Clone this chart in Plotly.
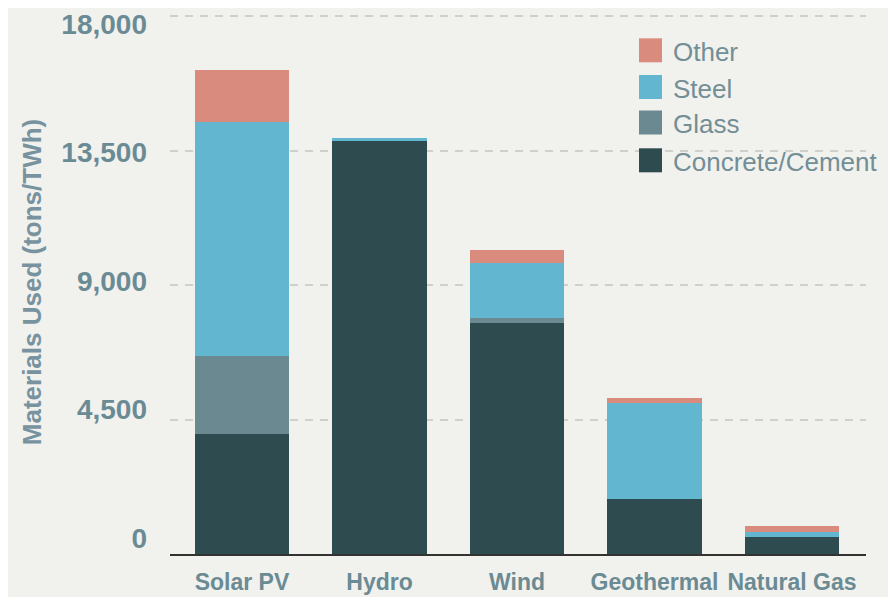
import plotly.graph_objects as go

categories = ["Solar PV", "Hydro", "Wind", "Geothermal", "Natural Gas"]
concrete = [4015, 13830, 7740, 1830, 570]
glass = [2610, 0, 145, 0, 0]
steel = [7830, 80, 1840, 3230, 180]
other = [1740, 0, 445, 170, 190]

series_names = ["Concrete/Cement", "Glass", "Steel", "Other"]
series_values = [concrete, glass, steel, other]
series_colors = ["#2e4b4f", "#6a8990", "#63b6cf", "#d98c7e"]

y_ticks = [0, 4500, 9000, 13500, 18000]

# The page body has an 8px default margin; lay out in reference pixels and shift.
OFF = 8
W, H = 896 - OFF, 597 - OFF
PLOT_LEFT, PLOT_RIGHT, PLOT_TOP, PLOT_BOTTOM = 170, 866, 10, 554  # reference px
L = PLOT_LEFT - OFF
T = PLOT_TOP - OFF
R = W - (PLOT_RIGHT - OFF)
B = H - (PLOT_BOTTOM - OFF)
PW = PLOT_RIGHT - PLOT_LEFT
PH = PLOT_BOTTOM - PLOT_TOP

def px_x(px):
    return (px - PLOT_LEFT) / PW

def px_y(py):
    return (PLOT_BOTTOM - py) / PH

FONT = "Liberation Sans, Arial, Helvetica, sans-serif"
TICK_COLOR = "#6b8b94"
LEGEND_COLOR = "#728e96"
BG = "#f1f1ee"

fig = go.Figure()
x_idx = list(range(len(categories)))
for name, vals, col in zip(series_names, series_values, series_colors):
    fig.add_trace(go.Bar(
        x=x_idx, y=vals, name=name,
        marker=dict(color=col, line=dict(width=0)),
        showlegend=False, yaxis="y",
    ))

# invisible helper trace on the label axis so it renders
fig.add_trace(go.Scatter(x=[0], y=[0], yaxis="y2", mode="markers",
                         marker=dict(opacity=0), showlegend=False, hoverinfo="skip"))

# manual legend (top entry = last stacked series)
legend_rows = [("Other", series_colors[3], 50.3),
               ("Steel", series_colors[2], 87.0),
               ("Glass", series_colors[1], 122.5),
               ("Concrete/Cement", series_colors[0], 160.3)]
shapes = []
annotations = []
for label, col, cy in legend_rows:
    shapes.append(dict(type="rect", xref="paper", yref="paper",
                       x0=px_x(639), x1=px_x(662), y0=px_y(cy + 12), y1=px_y(cy - 12),
                       fillcolor=col, line=dict(width=0), layer="above"))
    annotations.append(dict(xref="paper", yref="paper", x=px_x(671), y=px_y(cy + 2),
                            xanchor="left", yanchor="middle", showarrow=False,
                            text=label, font=dict(family=FONT, size=26, color=LEGEND_COLOR)))

# main value axis: 0 at y=554, 18000 at y=16
top_val = 18000 * (PH / (554.0 - 16.0))
# label axis: labels sit slightly compressed (0 at y=538, 18,000 at y=23.7)
label_px_per_unit = (538.0 - 23.7) / 18000.0
y2_low = -(PLOT_BOTTOM - 538.0) / label_px_per_unit
y2_high = 18000 + (23.7 - PLOT_TOP) / label_px_per_unit

fig.update_layout(
    width=W, height=H,
    margin=dict(l=L, r=R, t=T, b=B, autoexpand=False),
    paper_bgcolor=BG, plot_bgcolor=BG,
    barmode="stack", bargap=0.316,
    font=dict(family=FONT, color=TICK_COLOR),
    xaxis=dict(
        type="linear", range=[-72 / 137.5, 4 + 74 / 137.5],
        tickmode="array", tickvals=x_idx, ticktext=categories,
        showgrid=False, zeroline=False,
        showline=True, linecolor="#333333", linewidth=2,
        ticks="", ticklabelstandoff=6,
        tickfont=dict(family=FONT, size=23, color=TICK_COLOR, weight="bold"),
    ),
    yaxis=dict(
        range=[0, top_val], tickmode="array", tickvals=y_ticks,
        showticklabels=False, ticks="",
        showgrid=True, gridcolor="#cfcfcb", gridwidth=1.5, griddash="8px,7px",
        zeroline=False, showline=False,
    ),
    yaxis2=dict(
        overlaying="y", side="left", range=[y2_low, y2_high],
        tickmode="array", tickvals=y_ticks, tickformat=",",
        showgrid=False, zeroline=False, showline=False, ticks="",
        ticklabelstandoff=22,
        tickfont=dict(family=FONT, size=28, color=TICK_COLOR, weight="bold"),
        title=dict(text="Materials Used (tons/TWh)", standoff=12,
                   font=dict(family=FONT, size=26, color="#7893a0", weight="bold")),
    ),
    shapes=shapes, annotations=annotations,
)

fig.write_html("out.html")
